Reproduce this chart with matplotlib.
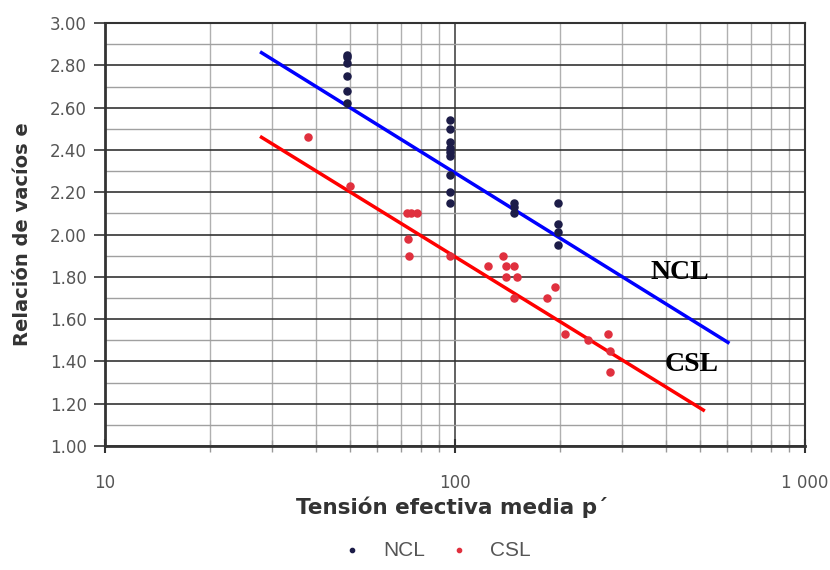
import matplotlib
matplotlib.use("Agg")
import matplotlib.pyplot as plt
from matplotlib.ticker import FixedLocator, NullFormatter, MultipleLocator, FormatStrFormatter

# NCL data
ncl_p = [49, 49, 49, 49, 49, 49,
         97, 97, 97, 97, 97, 97, 97, 97, 97,
         147, 147, 147,
         197, 197, 197, 197]
ncl_e = [2.85, 2.84, 2.81, 2.75, 2.68, 2.62,
         2.54, 2.50, 2.44, 2.41, 2.39, 2.37, 2.28, 2.20, 2.15,
         2.15, 2.13, 2.10,
         2.15, 2.05, 2.01, 1.95]

# CSL data
csl_p = [38, 50, 73, 75, 78, 73.5, 74, 97, 124, 137, 140, 147, 140, 150, 147,
         183, 193, 206, 240, 274, 277, 277]
csl_e = [2.46, 2.23, 2.10, 2.10, 2.10, 1.98, 1.90, 1.90, 1.85, 1.90, 1.85, 1.85,
         1.80, 1.80, 1.70, 1.70, 1.75, 1.53, 1.50, 1.53, 1.45, 1.35]

# Fitted lines
ncl_line_p = [28, 602]
ncl_line_e = [2.86, 1.49]
csl_line_p = [28, 512]
csl_line_e = [2.46, 1.17]

x_ticks = [10, 100, 1000]
x_ticklabels = ["10", "100", "1 000"]

fig = plt.figure(figsize=(8.3, 5.7), dpi=100)
ax = fig.add_axes([0.1265, 0.2175, 0.8435, 0.742])
ax.set_xscale("log")
ax.set_xlim(10, 1000)
ax.set_ylim(1.0, 3.0)

# grid
minor_x = [v * d for d in (10, 100) for v in range(2, 10)]
for xv in minor_x:
    ax.axvline(xv, color="#b0b0b0", lw=1.0, zorder=0)
ax.axvline(100, color="#555555", lw=1.3, zorder=0)
for i in range(21):
    yv = 1.0 + 0.1 * i
    if i % 2 == 0:
        ax.axhline(yv, color="#333333", lw=1.2, zorder=0)
    else:
        ax.axhline(yv, color="#a0a0a0", lw=1.0, zorder=0)

ax.plot(ncl_line_p, ncl_line_e, color="#0000ff", lw=2.5, zorder=3)
ax.plot(csl_line_p, csl_line_e, color="#ff0000", lw=2.5, zorder=3)

ax.scatter(ncl_p, ncl_e, s=26, color="#1c1c48", zorder=4, label="NCL")
ax.scatter(csl_p, csl_e, s=26, color="#e0303e", zorder=4, label="CSL")

ax.text(440, 1.82, "NCL", fontsize=20, fontweight="bold", family="Liberation Serif",
        ha="center", va="center")
ax.text(475, 1.385, "CSL", fontsize=20, fontweight="bold", family="Liberation Serif",
        ha="center", va="center")

ax.xaxis.set_major_locator(FixedLocator(x_ticks))
ax.set_xticklabels(x_ticklabels)
ax.xaxis.set_minor_locator(FixedLocator(minor_x))
ax.xaxis.set_minor_formatter(NullFormatter())
ax.yaxis.set_major_locator(MultipleLocator(0.2))
ax.yaxis.set_major_formatter(FormatStrFormatter("%.2f"))
ax.yaxis.set_minor_locator(MultipleLocator(0.1))

ax.tick_params(axis="x", which="major", direction="inout", length=10, width=1.5, colors="#333333",
               labelsize=12, labelcolor="#555555", pad=15)
ax.tick_params(axis="x", which="minor", direction="inout", length=8, width=1, colors="#999999")
ax.tick_params(axis="y", which="major", direction="out", length=8, width=1.2, colors="#333333",
               labelsize=12, labelcolor="#555555", pad=5)
ax.tick_params(axis="y", which="minor", length=0)
for lab in ax.get_xticklabels() + ax.get_yticklabels():
    lab.set_family("DejaVu Sans")

for s in ax.spines.values():
    s.set_color("#333333")
    s.set_linewidth(1.5)
ax.spines["left"].set_linewidth(2)
ax.spines["bottom"].set_linewidth(2)

ax.set_ylabel("Relación de vacíos e", fontsize=14, fontweight="bold", family="DejaVu Sans",
              color="#333333")
ax.yaxis.set_label_coords(-0.104, 0.5)
ax.set_xlabel("Tensión efectiva media p´", fontsize=15.5, fontweight="bold", family="DejaVu Sans",
              color="#333333")
ax.xaxis.set_label_coords(0.496, -0.12)

leg = ax.legend(loc="center", bbox_to_anchor=(0.466, -0.246), ncol=2, frameon=False,
                prop={"family": "Liberation Sans", "size": 15}, markerscale=0.6,
                handletextpad=0.5, columnspacing=0.6)
for t in leg.get_texts():
    t.set_color("#555555")

fig.savefig("out.png", dpi=100)
